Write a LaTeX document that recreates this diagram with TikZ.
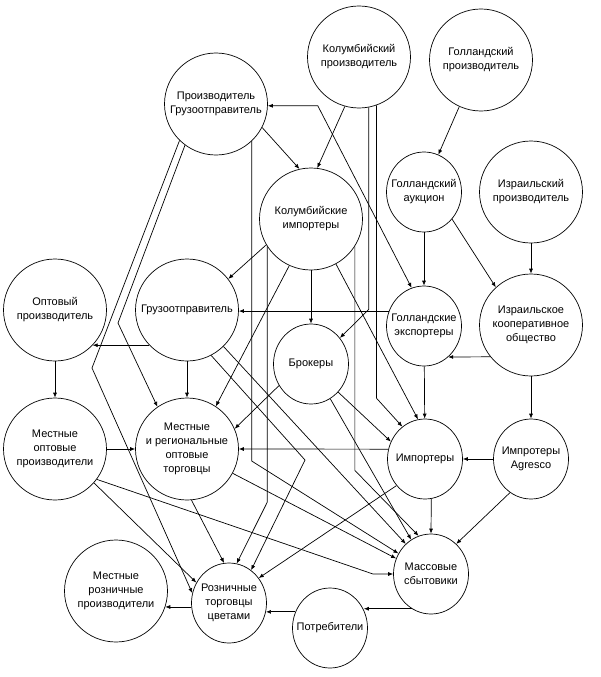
\documentclass[tikz,border=0pt]{standalone}
\usepackage{fontspec}
\setmainfont{Liberation Sans}
\usetikzlibrary{shapes.geometric,arrows.meta}

\tikzset{
  actor/.style={draw,ellipse,align=center,inner xsep=-15pt,inner ysep=0pt,
    font=\fontsize{11}{14}\selectfont},
  bigfirm/.style={actor,minimum width=103pt,minimum height=102pt},
  smallfirm/.style={actor,minimum width=75pt,minimum height=80pt},
}

\begin{document}
\begin{tikzpicture}[x=1pt,y=-1pt,line width=0.7pt,>={Latex[length=5pt,width=4pt]}]
\useasboundingbox (0,0) rectangle (601,677);
\node[bigfirm] (prodship) at (216,104) {Производитель\\Грузоотправитель};
\node[bigfirm] (colprod) at (359,57) {Колумбийский\\производитель};
\node[bigfirm] (dutchprod) at (481,60) {Голландский\\производитель};
\node[bigfirm] (colimp) at (311,219) {Колумбийские\\импортеры};
\node[smallfirm] (auction) at (424,192) {Голландский\\аукцион};
\node[bigfirm] (israprod) at (531,192) {Израильский\\производитель};
\node[bigfirm] (wholeprod) at (55,310) {Оптовый\\производитель};
\node[bigfirm] (shipper) at (187,310) {Грузоотправитель};
\node[smallfirm] (dutchexp) at (424,326) {Голландские\\экспортеры};
\node[bigfirm] (coop) at (531,325) {Израильское\\кооперативное\\общество};
\node[smallfirm] (brokers) at (311,364) {Брокеры};
\node[bigfirm] (localwp) at (55,449) {Местные\\оптовые\\производители};
\node[bigfirm] (regional) at (187,449) {Местные\\и региональные\\оптовые\\торговцы};
\node[smallfirm] (importers) at (425,459) {Импортеры};
\node[smallfirm] (agresco) at (531,459) {Импротеры\\Agresco};
\node[smallfirm] (mass) at (431,574) {Массовые\\сбытовики};
\node[bigfirm] (localretail) at (116,591) {Местные\\розничные\\производители};
\node[smallfirm] (florists) at (229,603) {Розничные\\торговцы\\цветами};
\node[smallfirm] (consumers) at (330,628) {Потребители};

\draw[->] (prodship.-27) -- (colimp.103);
\draw[->] (colprod.-106) -- (colimp.83);
\draw[<->] (prodship.-2) -- ++(50,0) -- (dutchexp.108);
\draw[->] (prodship.-46) -- ++(0,320) -- (mass);
\draw[->] (prodship.-127) -- (118,323) -- (regional.125);
\draw[->] (prodship.-135) -- (92,368) -- (florists.165);
\draw[->] (colprod.-79) -- ++(0,202) -- (brokers.42);
\draw[->] (colprod.-70) -- ++(0,293) -- (importers.125);
\draw[->] (dutchprod.-115) -- (auction.69);
\draw[->] (auction) -- (dutchexp);
\draw[->] (auction.-44) -- (coop.133);
\draw[->] (israprod) -- (coop);
\draw[->] (coop.-142) -- (dutchexp.-52);
\draw[->] (coop) -- (agresco);
\draw[->] (agresco) -- (importers);
\draw[->] (dutchexp) -- (importers);
\draw[->] (importers.-81) -- (mass.north);
\draw[->] (importers.165) -- (regional.east);
\draw[->] (agresco.-122) -- (mass.50);
\draw[->] (importers.-137) -- (florists.40);
\draw[->] (colimp.-150) -- (shipper.37);
\draw[->] (dutchexp.157) -- (dutchexp.157 -| shipper.east);
\draw[->] (colimp) -- (brokers);
\draw[->] (colimp.-115) -- (regional.56);
\draw[->] (colimp.-61) -- (importers.100);
\draw[->] (colimp.-32) -- ++(0,224) -- (mass.108);
\draw[->] (colimp.-148) -- ++(0,256) -- (florists.79);
\draw[->] (brokers.-146) -- (regional.23);
\draw[->] (brokers.-46) -- (importers.153);
\draw[->] (brokers.-61) -- (mass.120);
\draw[->] (shipper.-137) -- (wholeprod.-43);
\draw[->] (shipper) -- (regional);
\draw[->] (shipper.-62) -- (305,460) -- (florists.56);
\draw[->] (shipper.-45) -- (mass.130);
\draw[->] (regional.-28) -- (mass.156);
\draw[->] (regional.-85) -- (florists.97);
\draw[->] (wholeprod) -- (localwp);
\draw[->] (localwp) -- (regional);
\draw[->] (localwp.-41) -- (florists.148);
\draw[->] (localwp.-36) -- (373,574) -- (mass.west);
\draw[->] (mass.-119) -- (mass.-119 -| consumers.28);
\draw[->] (consumers.155) -- (consumers.155 -| florists.-13);
\draw[->] (florists.186) -- (florists.186 -| localretail.-18);
\end{tikzpicture}
\end{document}
